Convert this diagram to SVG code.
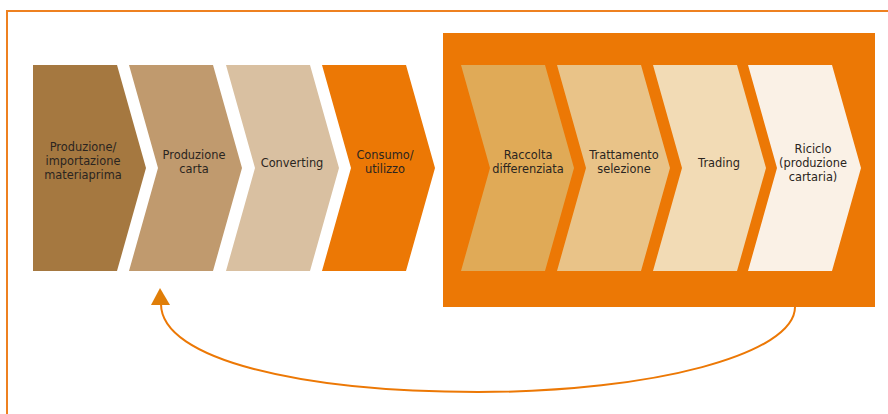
<svg xmlns="http://www.w3.org/2000/svg" width="888" height="414" viewBox="0 0 888 414">
  <style>
    .lbl { font-family: "DejaVu Sans", "Open Sans", sans-serif; font-size: 11.4px; fill: #2b2520; text-anchor: middle; }
    .conn { fill: none; stroke: #EC7805; stroke-width: 2; }
  </style>
  <defs>
    <!-- chevron step: origin at its top-left corner -->
    <path id="chev" d="M0 0 H84 L113 103 L84 206 H0 L29 103 Z"/>
    <path id="chevFirst" d="M0 0 H84 L113 103 L84 206 H0 Z"/>
  </defs>

  <rect width="888" height="414" fill="#ffffff"/>

  <!-- outer frame -->
  <rect x="7" y="11" width="900" height="420" fill="none" stroke="#EE8120" stroke-width="2"/>

  <!-- recovery area background -->
  <rect id="recovery-area" x="443" y="33" width="432" height="274" fill="#EC7805"/>

  <g id="n1">
    <use href="#chevFirst" x="33" y="65" fill="#A57840"/>
    <text class="lbl" x="83" y="151"><tspan x="83">Produzione/</tspan><tspan x="83" dy="14">importazione</tspan><tspan x="83" dy="14">materiaprima</tspan></text>
  </g>
  <g id="n2">
    <use href="#chev" x="129" y="65" fill="#C09A6E"/>
    <text class="lbl" x="194" y="158.5"><tspan x="194">Produzione</tspan><tspan x="194" dy="14">carta</tspan></text>
  </g>
  <g id="n3">
    <use href="#chev" x="226" y="65" fill="#D9C0A1"/>
    <text class="lbl" x="292" y="167">Converting</text>
  </g>
  <g id="n4">
    <use href="#chev" x="322" y="65" fill="#EC7805"/>
    <text class="lbl" x="385" y="158.5"><tspan x="385">Consumo/</tspan><tspan x="385" dy="14">utilizzo</tspan></text>
  </g>
  <g id="n5">
    <use href="#chev" x="461" y="65" fill="#E0AA57"/>
    <text class="lbl" x="528" y="158.5"><tspan x="528">Raccolta</tspan><tspan x="528" dy="14">differenziata</tspan></text>
  </g>
  <g id="n6">
    <use href="#chev" x="557" y="65" fill="#E9C388"/>
    <text class="lbl" x="624" y="158.5"><tspan x="624">Trattamento</tspan><tspan x="624" dy="14">selezione</tspan></text>
  </g>
  <g id="n7">
    <use href="#chev" x="653" y="65" fill="#F2DBB5"/>
    <text class="lbl" x="719" y="167">Trading</text>
  </g>
  <g id="n8">
    <use href="#chev" x="748" y="65" fill="#FAF1E6"/>
    <text class="lbl" x="813" y="152.5"><tspan x="813">Riciclo</tspan><tspan x="813" dy="14">(produzione</tspan><tspan x="813" dy="14">cartaria)</tspan></text>
  </g>

  <!-- return loop from recycling back to paper production -->
  <g id="connectors">
    <path class="conn" d="M795 307 C795 354 653 392 478 392 C303 392 161 360 161 304"/>
    <polygon points="160,288 151,305 170,305" fill="#E07E08"/>
  </g>
</svg>
